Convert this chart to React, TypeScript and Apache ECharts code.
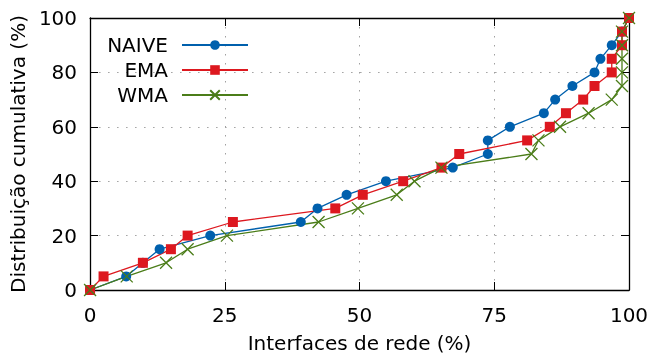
import React, { useEffect, useRef } from "react";
import * as echarts from "echarts";

const cumulative = [0, 5, 10, 15, 20, 25, 30, 35, 40, 45, 50, 55, 60, 65, 70, 75, 80, 85, 90, 95, 100];
const naiveX = [0, 6.7, 9.8, 12.9, 22.3, 39.1, 42.2, 47.6, 54.9, 67.3, 73.8, 73.8, 77.9, 84.2, 86.3, 89.5, 93.6, 94.7, 96.8, 98.7, 100];
const emaX = [0, 2.5, 9.8, 15.0, 18.1, 26.5, 45.5, 50.6, 58.1, 65.2, 68.5, 81.1, 85.3, 88.3, 91.5, 93.6, 96.8, 96.8, 98.7, 98.7, 100];
const wmaX = [0, 6.8, 14.1, 18.1, 25.4, 42.4, 49.7, 56.9, 60.2, 65.2, 81.9, 83.2, 87.2, 92.5, 96.8, 98.7, 98.7, 98.7, 98.7, 98.7, 100];
const xTicks = [0, 25, 50, 75, 100];
const yTicks = [0, 20, 40, 60, 80, 100];
const seriesNames = ["NAIVE", "EMA", "WMA"];

const FONT = "DejaVu Sans";
const FS = 20;
const BLUE = "#0060ad";
const RED = "#dd181f";
const GREEN = "#4b7d19";

function pair(xs: number[]) {
  return xs.map((x, i) => [x, cumulative[i]]);
}

export default function App() {
  const ref = useRef<HTMLDivElement>(null);
  useEffect(() => {
    if (!ref.current) return;
    const chart = echarts.init(ref.current, null, { renderer: "svg" });
    const gridLine = { show: true, lineStyle: { color: "#a0a0a0", width: 1, type: [1.5, 7.5] as any } };
    const tick = { show: true, inside: true, length: 8, lineStyle: { color: "#000", width: 1 } };
    const axisLine = { show: true, onZero: false, lineStyle: { color: "#000", width: 1.3 } };
    const legendCommon = {
      orient: "horizontal" as const,
      align: "right" as const,
      right: 398,
      itemWidth: 66,
      itemHeight: 12,
      textStyle: { fontFamily: FONT, fontSize: FS, color: "#000", padding: [0, 9, 0, 0] },
      selectedMode: false,
    };
    chart.setOption({
      animation: false,
      grid: { left: 89, right: 23, top: 18, bottom: 68, containLabel: false },
      legend: [
        { ...legendCommon, data: [seriesNames[0]], top: 30 },
        { ...legendCommon, data: [seriesNames[1]], top: 55 },
        { ...legendCommon, data: [seriesNames[2]], top: 80 },
      ],
      xAxis: [
        {
          type: "value",
          min: 0,
          max: 100,
          interval: 25,
          position: "bottom",
          axisLine,
          axisTick: tick,
          splitLine: gridLine,
          axisLabel: {
            fontFamily: FONT,
            fontSize: FS,
            color: "#000",
            margin: 15,
            customValues: xTicks,
          },
          name: "Interfaces de rede (%)",
          nameLocation: "middle",
          nameGap: 43,
          nameTextStyle: { fontFamily: FONT, fontSize: FS, color: "#000" },
        },
        {
          type: "value",
          min: 0,
          max: 100,
          interval: 25,
          position: "top",
          axisLine,
          axisTick: tick,
          splitLine: { show: false },
          axisLabel: { show: false },
        },
      ],
      yAxis: [
        {
          type: "value",
          min: 0,
          max: 100,
          interval: 20,
          position: "left",
          axisLine,
          axisTick: tick,
          splitLine: gridLine,
          axisLabel: {
            fontFamily: FONT,
            fontSize: FS,
            color: "#000",
            margin: 13,
            customValues: yTicks,
          },
          name: "Distribuição cumulativa (%)",
          nameLocation: "middle",
          nameGap: 54,
          nameTextStyle: { fontFamily: FONT, fontSize: FS, color: "#000" },
        },
        {
          type: "value",
          min: 0,
          max: 100,
          interval: 20,
          position: "right",
          axisLine,
          axisTick: tick,
          splitLine: { show: false },
          axisLabel: { show: false },
        },
      ],
      series: [
        {
          name: seriesNames[0],
          type: "line",
          data: pair(naiveX),
          symbol: "circle",
          symbolSize: 10,
          lineStyle: { color: BLUE, width: 1.3 },
          itemStyle: { color: BLUE },
        },
        {
          name: seriesNames[1],
          type: "line",
          data: pair(emaX),
          symbol: "rect",
          symbolSize: 10,
          lineStyle: { color: RED, width: 1.3 },
          itemStyle: { color: RED },
        },
        {
          name: seriesNames[2],
          type: "line",
          data: pair(wmaX),
          symbol: "path://M0,0L10,10M10,0L0,10",
          symbolSize: 12,
          lineStyle: { color: GREEN, width: 1.3 },
          itemStyle: { color: GREEN, borderColor: GREEN, borderWidth: 1.3 },
        },
      ],
    });
    return () => chart.dispose();
  }, []);
  return <div ref={ref} style={{ position: "fixed", left: 0, top: 0, width: 652, height: 358 }} />;
}
